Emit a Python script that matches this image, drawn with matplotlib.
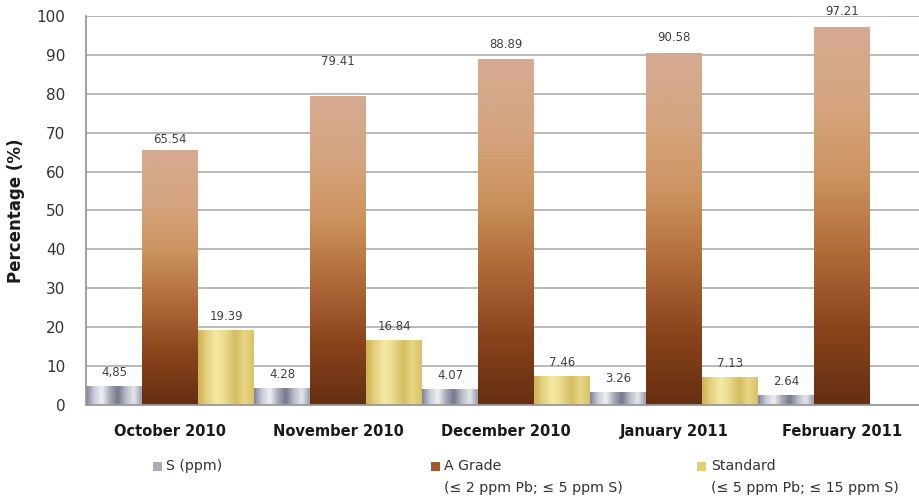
import numpy as np
import matplotlib
matplotlib.use("Agg")
import matplotlib.pyplot as plt
from matplotlib.colors import LinearSegmentedColormap
from matplotlib.patches import Rectangle

months = ['October 2010', 'November 2010', 'December 2010', 'January 2011', 'February 2011']
s_ppm = [4.85, 4.28, 4.07, 3.26, 2.64]
a_grade = [65.54, 79.41, 88.89, 90.58, 97.21]
standard = [19.39, 16.84, 7.46, 7.13, np.nan]
s_labels = ['4,85', '4.28', '4.07', '3.26', '2.64']
a_labels = ['65.54', '79.41', '88.89', '90.58', '97.21']
std_labels = ['19.39', '16.84', '7.46', '7.13', '']
series_names = ['S (ppm)', 'A Grade\n(≤ 2 ppm Pb; ≤ 5 ppm S)', 'Standard\n(≤ 5 ppm Pb; ≤ 15 ppm S)']
yticks = [0, 10, 20, 30, 40, 50, 60, 70, 80, 90, 100]
# label offsets (points) above bar tops
a_offsets = [3, 20, 6, 6, 6]

fig = plt.figure(figsize=(9.2, 4.97), dpi=100)
ax = fig.add_axes([0.0935, 0.185, 0.913, 0.783])

x = np.arange(len(months))
w = 1 / 3

silver = LinearSegmentedColormap.from_list('silver', ['#7d8294', '#c9cbd6', '#eef0f4', '#a7aab8', '#767a8c', '#b9bcc8', '#e3e5ec', '#9a9eae'])
brown = LinearSegmentedColormap.from_list('brown', ['#652e12', '#8a441b', '#b06a3a', '#cc935f', '#d6a580', '#d6aa92'])
gold = LinearSegmentedColormap.from_list('gold', ['#cdb356', '#e6d27e', '#f4e9a6', '#e9d888', '#d4bc62', '#e8d684', '#d9c268'])

b1 = ax.bar(x - w, s_ppm, w, color='none', edgecolor='none')
b2 = ax.bar(x, a_grade, w, color='none', edgecolor='none')
b3 = ax.bar(x + w, standard, w, color='none', edgecolor='none')

hgrad = np.linspace(0, 1, 256).reshape(1, -1)
vgrad = np.linspace(0, 1, 256).reshape(-1, 1)

def fill(bars, cmap, img):
    for p in bars.patches:
        h = p.get_height()
        if not np.isfinite(h) or h <= 0:
            continue
        x0, y0 = p.get_x(), p.get_y()
        im = ax.imshow(img, extent=[x0, x0 + p.get_width(), y0, y0 + h], origin='lower',
                       aspect='auto', cmap=cmap, zorder=2, interpolation='bilinear')
        im.set_clip_path(p)

fill(b1, silver, hgrad)
fill(b2, brown, vgrad)
fill(b3, gold, hgrad)

def label(bars, labels, offs):
    for p, t, o in zip(bars.patches, labels, offs):
        h = p.get_height()
        if not t:
            continue
        ax.annotate(t, (p.get_x() + p.get_width() / 2, h), xytext=(0, o), textcoords='offset points',
                    ha='center', va='bottom', fontsize=8.5, color='#404040')

label(b1, s_labels, [5] * 5)
label(b2, a_labels, a_offsets)
label(b3, std_labels, [5] * 5)

ax.set_xlim(-0.5, len(months) - 0.5)
ax.set_ylim(0, 100)
ax.set_yticks(yticks)
ax.set_axisbelow(True)
ax.yaxis.grid(True, color='#b4b4b4', linewidth=1.3)
ax.set_xticks(x)
ax.set_xticklabels(months, fontsize=10.5, fontweight='bold', color='#1a1a1a')
ax.tick_params(axis='x', length=0, pad=14)
ax.tick_params(axis='y', length=0, pad=15, labelsize=11, labelcolor='#333333')
for sp in ['top', 'right']:
    ax.spines[sp].set_visible(False)
for sp in ['left', 'bottom']:
    ax.spines[sp].set_color('#9a9a9a')
    ax.spines[sp].set_linewidth(1.3)
ax.set_ylabel('Percentage (%)', fontsize=12, fontweight='bold', color='#1a1a1a', labelpad=8)

# legend
icon_cols = ['#a9acb9', '#a4582a', '#e3cf72']
icon_x = [153, 431, 697]
text_x = [166, 444, 711]
for c, ix, tx, name in zip(icon_cols, icon_x, text_x, series_names):
    fig.patches.append(Rectangle((ix / 920, 1 - 471 / 497), 9 / 920, 9 / 497, transform=fig.transFigure,
                                 facecolor=c, edgecolor='none'))
    fig.text(tx / 920, 1 - 459 / 497, name, ha='left', va='top', fontsize=10.2, color='#333333',
             linespacing=1.75)

fig.savefig('out.png', dpi=100)
